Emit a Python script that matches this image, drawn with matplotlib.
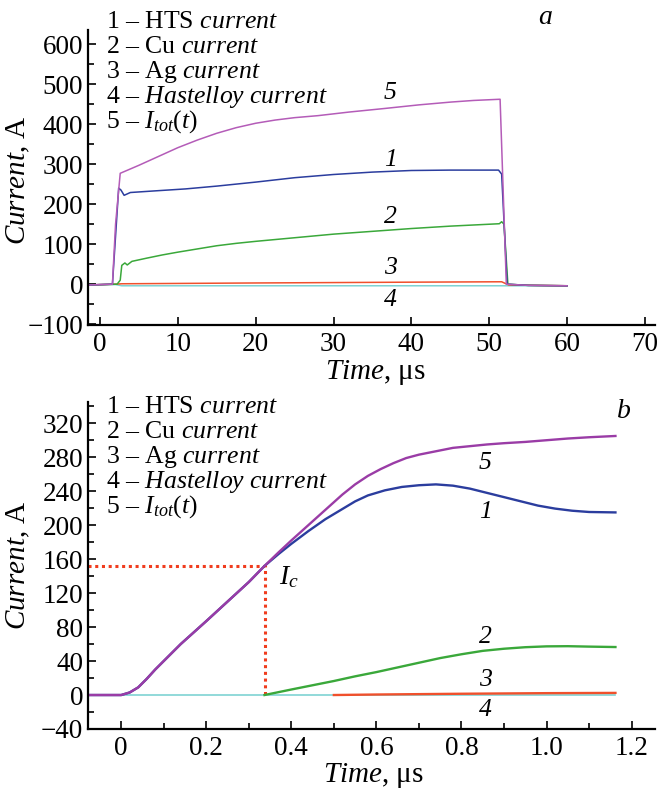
import matplotlib
matplotlib.use("Agg")
import matplotlib.pyplot as plt
from matplotlib.ticker import MultipleLocator

plt.rcParams["font.family"] = ["Liberation Serif", "DejaVu Serif"]
plt.rcParams["mathtext.fontset"] = "custom"
plt.rcParams["mathtext.rm"] = "Liberation Serif"
plt.rcParams["mathtext.it"] = "Liberation Serif:italic"
FS = 18.5      # legend / curve labels
TFS = 19.5     # tick labels
LFS = 21       # axis labels

# ---- panel a: full pulse, Time in us, Current in A
ta_tot = [-1.5, 1.6, 2.0, 2.6, 5.0, 7.5, 10.0, 12.5, 15.0, 17.5, 20.0, 22.5, 25.0, 28.0, 32.0, 36.6, 41.0, 45.1, 48.0, 51.4, 52.2, 55.0, 60.0]
ia_tot = [-2, 0, 150, 277, 297, 319, 341, 360, 377, 391, 402, 410, 416, 421, 430, 439, 448, 455, 459, 462, 0, -3, -4]
ta_hts = [-1.5, 1.6, 2.0, 2.4, 2.7, 3.1, 3.9, 7.0, 11.0, 15.0, 20.0, 25.0, 30.0, 35.0, 40.0, 45.0, 51.2, 51.6, 52.3, 55.0, 60.0]
ia_hts = [-2, 0, 120, 240, 235, 222, 229, 233, 238, 245, 255, 266, 274, 280, 284, 285, 285, 275, 0, -3, -4]
ta_cu = [-1.5, 2.2, 2.6, 2.8, 3.2, 3.5, 4.1, 6.0, 8.0, 10.0, 12.5, 15.0, 17.5, 20.0, 25.0, 30.0, 35.0, 40.0, 45.0, 51.3, 51.6, 51.9, 52.4, 55.0, 60.0]
ia_cu = [-2, 0, 10, 47, 53, 48, 57, 65, 73, 80, 88, 96, 102, 107, 116, 125, 132, 139, 145, 151, 156, 150, 0, -3, -4]
ta_ag = [-1.5, 2.0, 2.8, 20.0, 40.0, 51.6, 52.5, 60.0]
ia_ag = [-2, 0, 1, 3, 5, 6, -2, -4]
ta_has = [-1.5, 2.0, 2.8, 52.5, 60.0]
ia_has = [-2, -1, -4, -4, -4]

# ---- panel b: leading edge, Time in us
tb_tot = [-0.077, 0.0, 0.02, 0.04, 0.06, 0.08, 0.10, 0.12, 0.14, 0.16, 0.20, 0.25, 0.30, 0.337, 0.37, 0.40,
          0.44, 0.48, 0.52, 0.55, 0.58, 0.61, 0.64, 0.67, 0.70, 0.74, 0.78, 0.82, 0.86, 0.90, 0.95, 1.00,
          1.05, 1.10, 1.162]
ib_tot = [0, 0, 3, 9, 19, 30, 40, 50, 60, 69, 87, 110, 133, 152, 168, 182, 200, 218, 236, 248, 258, 266,
          273, 279, 283, 287, 291, 293, 295, 296.5, 298, 300, 302, 303.5, 305]
tb_hts = [-0.077, 0.0, 0.02, 0.04, 0.06, 0.08, 0.10, 0.12, 0.14, 0.16, 0.20, 0.25, 0.30, 0.337, 0.37, 0.40,
          0.44, 0.48, 0.52, 0.55, 0.58, 0.62, 0.66, 0.70, 0.74, 0.78, 0.82, 0.86, 0.90, 0.94, 0.98, 1.02,
          1.06, 1.10, 1.162]
ib_hts = [0, 0, 3, 9, 19, 30, 40, 50, 60, 69, 87, 110, 133, 152, 166, 178, 193, 207, 219, 228, 235, 241,
          245, 247, 248, 246.5, 243, 238, 233, 228, 223, 219.5, 217, 215.5, 215]
tb_cu = [0.337, 0.40, 0.45, 0.50, 0.55, 0.60, 0.65, 0.70, 0.75, 0.80, 0.85, 0.90, 0.95, 1.00, 1.05, 1.10, 1.162]
ib_cu = [0, 6.5, 11.5, 16.5, 22, 27, 32.5, 38, 43.5, 48, 52, 54.5, 56.3, 57.3, 57.5, 57, 56.5]
tb_ag = [0.5, 0.6, 0.8, 1.0, 1.162]
ib_ag = [0, 0.6, 1.5, 2.2, 2.5]
tb_has = [-0.077, 1.162]
ib_has = [0, 0]
ic_t, ic_i = 0.337, 152

legend_lines = [r"$\mathit{1}$ – HTS $\mathit{current}$",
                r"$\mathit{2}$ – Cu $\mathit{current}$",
                r"$\mathit{3}$ – Ag $\mathit{current}$",
                r"$\mathit{4}$ – $\mathit{Hastelloy\ current}$",
                r"$\mathit{5}$ – $I_{tot}(t)$"]

W, H = 659, 792
fig = plt.figure(figsize=(W / 100, H / 100), dpi=100)


def px_axes(l, t, r, b):
    return fig.add_axes([l / W, 1 - b / H, (r - l) / W, (b - t) / H])


def style(ax):
    for s in ("top", "right"):
        ax.spines[s].set_visible(False)
    for s in ("left", "bottom"):
        ax.spines[s].set_linewidth(1.6)
    ax.tick_params(which="major", direction="in", length=6, width=1.2, labelsize=TFS)
    ax.tick_params(which="minor", direction="in", length=4, width=1.2)
    ax.tick_params(axis="x", which="major", pad=5)
    ax.set_xlabel(r"$\mathit{Time}$, μs", fontsize=LFS)
    ax.set_ylabel(r"$\mathit{Current}$, A", fontsize=LFS)


def legend(top_baseline):
    for i, s in enumerate(legend_lines):
        fig.text(106 / W, 1 - (top_baseline + 25 * i) / H, s, fontsize=FS, va="baseline", ha="left")


purple_a, purple_b = "#b45cb8", "#9a3ca6"
blue, green, red, cyan = "#2b3d9e", "#3aa83a", "#f0502c", "#7fd3d3"

# panel a
ax = px_axes(88, 30, 655, 325)
lw = 1.1
ax.plot(ta_has, ia_has, color=cyan, lw=lw)
ax.plot(ta_ag, ia_ag, color=red, lw=lw)
ax.plot(ta_cu, ia_cu, color=green, lw=lw)
ax.plot(ta_hts, ia_hts, color=blue, lw=lw)
ax.plot(ta_tot, ia_tot, color=purple_a, lw=lw)
ax.set_xlim(-1.54, 71.3)
ax.set_ylim(-102, 635)
ax.xaxis.set_major_locator(MultipleLocator(10))
ax.set_yticks(range(-100, 601, 100))
ax.set_yticklabels(["−100"] + [str(v) for v in range(0, 601, 100)])
ax.yaxis.set_minor_locator(MultipleLocator(50))
style(ax)
ax.yaxis.set_label_coords(-0.098, 0.49)
ax.xaxis.set_label_coords(0.506, -0.112)
for lab, yv in zip(["5", "1", "2", "3", "4"], [477, 310, 167, 40, -40]):
    ax.text(37.3, yv, lab, style="italic", fontsize=FS, ha="center", va="center")
ax.text(57.2, 667, "a", style="italic", fontsize=20, ha="center", va="center", clip_on=False)
legend(28)

# panel b
ax = px_axes(88, 402, 655, 729)
lw = 1.7
ax.plot(tb_has, ib_has, color=cyan, lw=1.2)
ax.plot(tb_ag, ib_ag, color=red, lw=lw)
ax.plot(tb_cu, ib_cu, color=green, lw=lw)
ax.plot(tb_hts, ib_hts, color=blue, lw=lw)
ax.plot(tb_tot, ib_tot, color=purple_b, lw=lw)
ax.plot([-0.077, ic_t, ic_t], [ic_i, ic_i, 0], color="#f03c1e", lw=2.2, ls=(0, (1, 1.2)), zorder=1)
ax.set_xlim(-0.078, 1.255)
ax.set_ylim(-40, 345)
ax.set_xticks([0, 0.2, 0.4, 0.6, 0.8, 1.0, 1.2])
ax.set_xticklabels(["0", "0.2", "0.4", "0.6", "0.8", "1.0", "1.2"])
ax.xaxis.set_minor_locator(MultipleLocator(0.1))
ax.set_yticks(range(-40, 321, 40))
ax.set_yticklabels(["−40"] + [str(v) for v in range(0, 321, 40)])
ax.yaxis.set_minor_locator(MultipleLocator(20))
style(ax)
ax.yaxis.set_label_coords(-0.098, 0.50)
ax.xaxis.set_label_coords(0.503, -0.098)
for lab, yv in zip(["5", "1", "2", "3", "4"], [273, 215, 68, 17.6, -17.6]):
    ax.text(0.856, yv, lab, style="italic", fontsize=FS, ha="center", va="center")
ax.text(0.37, 139, r"$I_c$", fontsize=20, ha="left", va="center")
ax.text(1.183, 334, "b", style="italic", fontsize=20, ha="center", va="center", clip_on=False)
legend(413)

fig.savefig("out.png", dpi=100)
